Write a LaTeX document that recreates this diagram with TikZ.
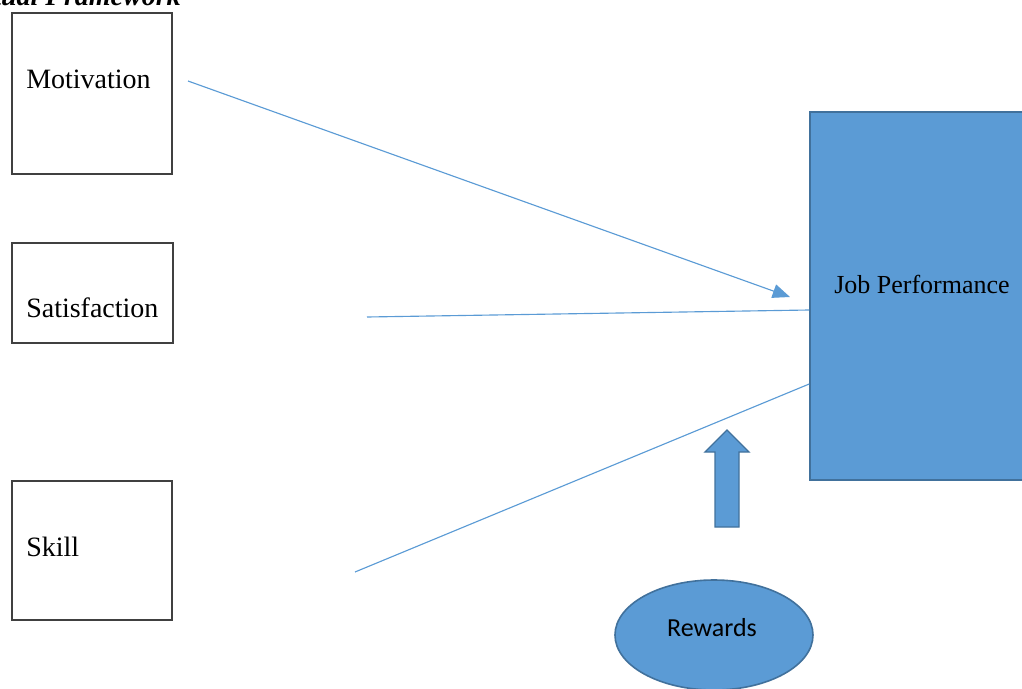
\documentclass[tikz,border=0pt]{standalone}
\usepackage{fontspec}
\setmainfont{Liberation Serif}
\newfontfamily\calibrifont{Carlito}
\usetikzlibrary{arrows.meta,shapes.geometric}

\definecolor{boxblue}{HTML}{5B9BD5}
\definecolor{edgeblue}{HTML}{41719C}

\tikzset{
  factor/.style={draw=black!75, line width=1pt, minimum width=120pt, inner sep=0pt},
  factortext/.style={anchor=base west, inner sep=0pt, font=\fontsize{21}{25}\selectfont},
  outcome/.style={draw=edgeblue, fill=boxblue, line width=1.2pt, minimum width=168pt, minimum height=276pt, inner sep=0pt},
  link/.style={draw=boxblue, line width=0.85pt},
}

\begin{document}
\begin{tikzpicture}[x=0.75pt,y=-0.75pt]
  \useasboundingbox (0,0) rectangle (1022,689);
  \clip (0,0) rectangle (1022,689);

  % heading, cut at the top of the page
  \node [anchor=base east, inner sep=0pt, font=\fontsize{21}{25}\selectfont\bfseries\itshape] (title) at (181,5) {Conceptual Framework};

  % the three factors
  \node [factor, minimum height=120.75pt] (motiv) at (92,93.5) {};
  \node [factortext] (motivt) at (26,88) {Motivation};
  \node [factor, minimum height=75pt, minimum width=120.75pt] (satis) at (92.5,293) {};
  \node [factortext] (satist) at (26,317) {Satisfaction};
  \node [factor, minimum height=104.25pt] (skill) at (92,550.5) {};
  \node [factortext] (skillt) at (26,556) {Skill};

  % outcome
  \node [outcome, label={[yshift=8.5pt, font=\fontsize{19.5}{23}\selectfont]center:Job Performance}] (perf) at (922,296) {};

  % moderator
  \node [ellipse, draw=edgeblue, fill=boxblue, line width=1.2pt, minimum width=148.5pt, minimum height=82.5pt, inner sep=0pt] (reward) at (714,635) {};
  \node [font=\calibrifont\fontsize{19.5}{23}\selectfont, anchor=base] (rewardt) at (712,636) {Rewards};

  % free ends of the lines
  \coordinate (m0) at (188,81);
  \coordinate (m1) at (790,297);
  \coordinate (s0) at (367,317);
  \coordinate (k0) at (355,572);

  \draw [link, -{Triangle[length=13pt,width=10.5pt]}] (m0) -- (m1);
  \draw [link] (s0) -- (perf.west |- 0,310);
  \draw [link] (k0) -- (perf.west |- 0,384);

  % block arrow from rewards
  \filldraw [draw=edgeblue, fill=boxblue, line width=1pt, line join=miter]
    (715,527) -- (715,452) -- (705,452) -- (727,430) -- (749,452) -- (739,452) -- (739,527) -- cycle;
\end{tikzpicture}
\end{document}
